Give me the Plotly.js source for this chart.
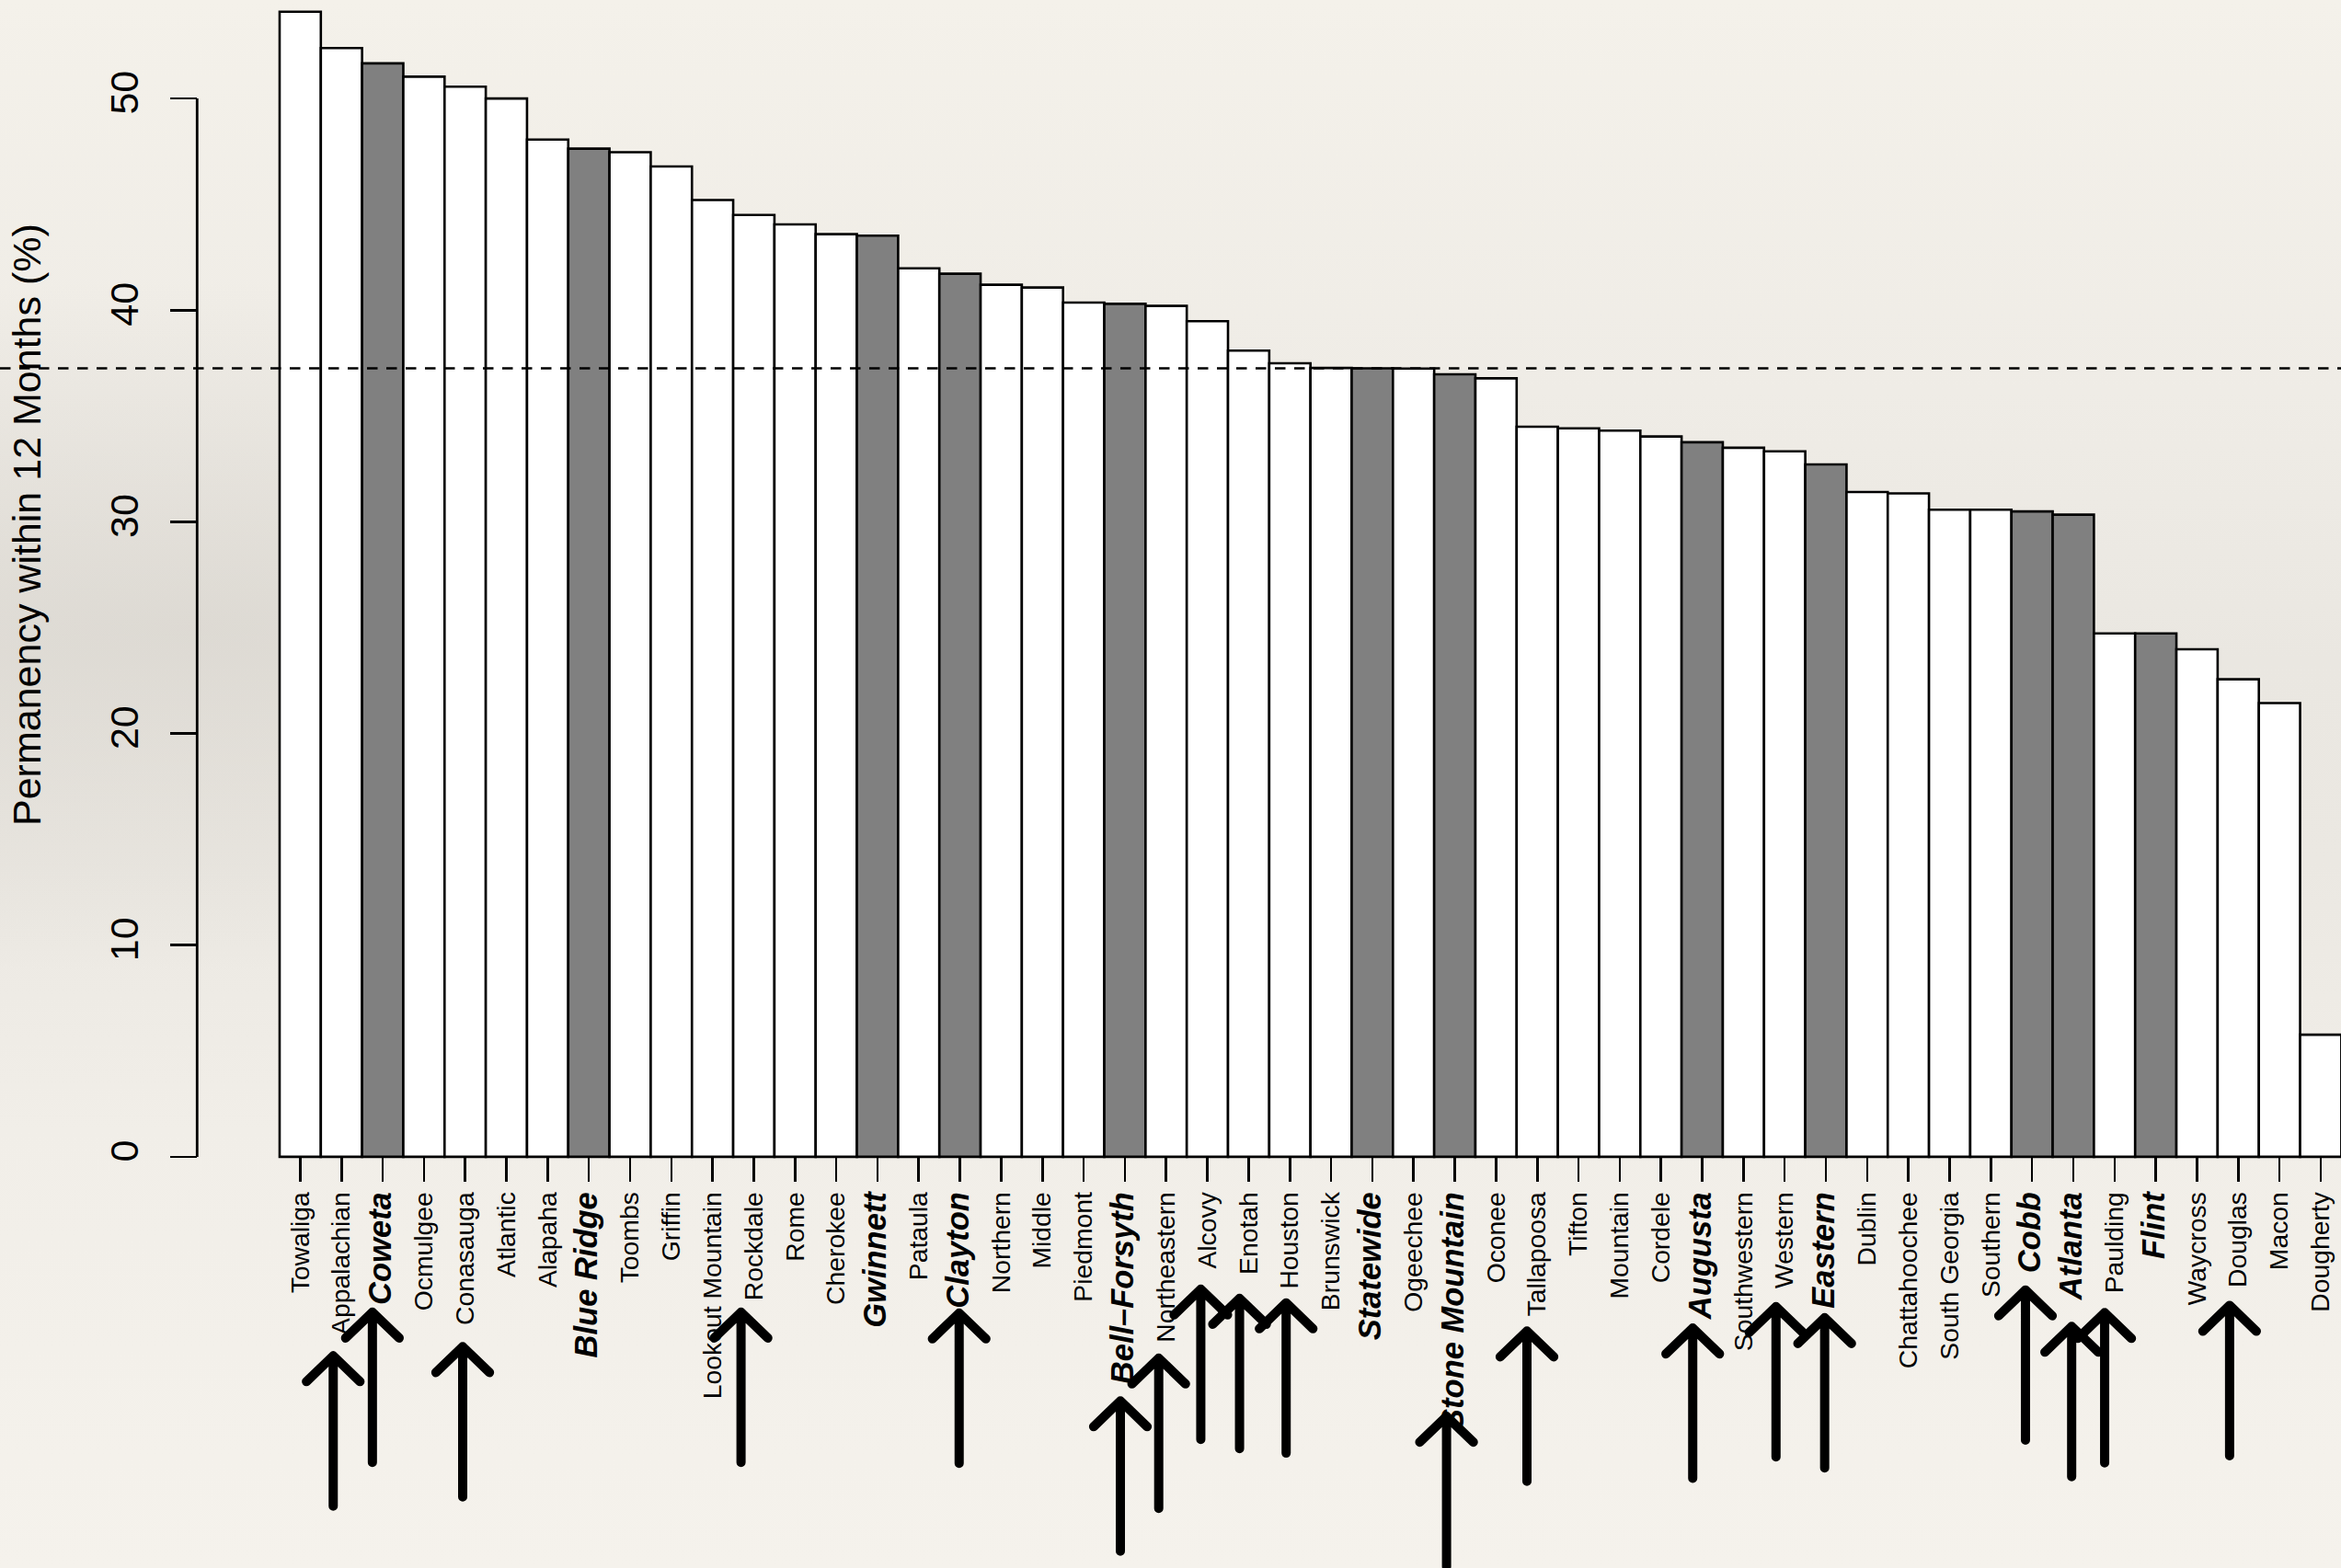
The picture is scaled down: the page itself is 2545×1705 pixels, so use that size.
<!DOCTYPE html>
<html>
<head>
<meta charset="utf-8">
<script src="https://cdn.plot.ly/plotly-3.0.1.min.js"></script>
<style>
html, body { margin: 0; padding: 0; width: 2545px; height: 1705px; overflow: hidden; }
body {
  background:
    radial-gradient(ellipse 55% 22% at 8% 40%, rgba(205,201,194,0.45), rgba(205,201,194,0) 100%),
    linear-gradient(to bottom, #f4f1ea 0%, #efece6 25%, #eae7e1 42%, #ebe8e2 55%, #f1eee8 72%, #f5f2ec 100%);
}
#chart { width: 2545px; height: 1705px; }
.shapelayer path[style*="stroke-width: 10px"] { stroke-linecap: round; stroke-linejoin: round; }
</style>
</head>
<body>
<div id="chart"></div>
<script>
// ---------------- data ----------------
const regions = [
  "Towaliga", "Appalachian", "Coweta", "Ocmulgee", "Conasauga", "Atlantic", "Alapaha",
  "Blue Ridge", "Toombs", "Griffin", "Lookout Mountain", "Rockdale", "Rome", "Cherokee",
  "Gwinnett", "Pataula", "Clayton", "Northern", "Middle", "Piedmont", "Bell\u2013Forsyth",
  "Northeastern", "Alcovy", "Enotah", "Houston", "Brunswick", "Statewide", "Ogeechee",
  "Stone Mountain", "Oconee", "Tallapoosa", "Tifton", "Mountain", "Cordele", "Augusta",
  "Southwestern", "Western", "Eastern", "Dublin", "Chattahoochee", "South Georgia",
  "Southern", "Cobb", "Atlanta", "Paulding", "Flint", "Waycross", "Douglas", "Macon",
  "Dougherty"
];
const permanency = [
  54.10, 52.38, 51.66, 51.03, 50.56, 50.00, 48.06,
  47.63, 47.46, 46.79, 45.20, 44.50, 44.05, 43.59,
  43.52, 41.98, 41.72, 41.20, 41.07, 40.36, 40.30,
  40.20, 39.48, 38.09, 37.49, 37.27, 37.25, 37.24,
  36.97, 36.78, 34.49, 34.42, 34.31, 34.03, 33.76,
  33.50, 33.33, 32.71, 31.41, 31.34, 30.57,
  30.57, 30.49, 30.34, 24.73, 24.73, 23.98, 22.56, 21.44,
  5.77
];
const highlighted = [
  "Coweta", "Blue Ridge", "Gwinnett", "Clayton", "Bell\u2013Forsyth", "Statewide",
  "Stone Mountain", "Augusta", "Eastern", "Cobb", "Atlanta", "Flint"
];
const referenceRegion = "Statewide";
const yTicks = [0, 10, 20, 30, 40, 50];
const yTitle = "Permanency within 12 Months (%)";

// hand-placed arrows under the labels (x in bar-index units, tip in y units)
const arrowTargets = [
  "Appalachian", "Coweta", "Conasauga", "Rockdale", "Clayton", "Bell\u2013Forsyth",
  "Northeastern", "Alcovy", "Enotah", "Houston", "Stone Mountain", "Tallapoosa",
  "Augusta", "Western", "Eastern", "Cobb", "Atlanta", "Paulding", "Douglas"
];
const arrowX = [
  0.80, 1.75, 3.94, 10.69, 15.98, 19.89,
  20.82, 21.84, 22.78, 23.91, 27.80, 29.75,
  33.77, 35.79, 36.97, 41.84, 42.96, 43.76, 46.79
];
const arrowTipY = [
  -9.40, -7.34, -8.97, -7.34, -7.38, -11.53,
  -9.51, -6.25, -6.69, -6.90, -12.26, -8.23,
  -8.09, -7.08, -7.60, -6.29, -8.01, -7.36, -7.02
];

// ---------------- styles ----------------
const FONT = "Liberation Sans, Arial, Helvetica, sans-serif";
const BLACK = "#000000";
const GRAY = "#808080";
const WHITE = "#ffffff";
const ARROW_LEN = 7.1;       // y units
const HEAD_DX = 0.65;        // x units
const HEAD_DY = 1.22;        // y units
const Y_AXIS_POS = 0.0842;   // paper fraction
const X_RANGE = [-7.281, 49.492];
const Y_RANGE = [-19.426, 54.653];
const X_AXIS_POS = (0 - Y_RANGE[0]) / (Y_RANGE[1] - Y_RANGE[0]);

const idx = regions.map((_, i) => i);
const hl = new Set(highlighted);
const tickText = regions.map(r => hl.has(r)
  ? '<span style="font-size:34.5px"><b><i>' + r + '</i></b></span>'
  : r);

const barTrace = {
  type: "bar",
  x: idx,
  y: permanency,
  width: 1,
  marker: {
    color: regions.map(r => hl.has(r) ? GRAY : WHITE),
    line: { color: BLACK, width: 2.6 }
  },
  hoverinfo: "skip"
};

const refValue = permanency[regions.indexOf(referenceRegion)];

const shapes = [];
// y axis line spanning the tick range (R style)
shapes.push({
  type: "line", xref: "paper", yref: "y",
  x0: Y_AXIS_POS, x1: Y_AXIS_POS, y0: yTicks[0], y1: yTicks[yTicks.length - 1],
  line: { color: BLACK, width: 2.8 }
});
// reference (statewide) dashed line
shapes.push({
  type: "line", xref: "paper", yref: "y",
  x0: 0, x1: 1, y0: refValue, y1: refValue,
  line: { color: BLACK, width: 2.5, dash: "11.5px,9.5px" }
});
// arrows
arrowTargets.forEach((name, k) => {
  const x = arrowX[k];
  const tip = arrowTipY[k];
  const tail = tip - ARROW_LEN;
  shapes.push({
    type: "path", xref: "x", yref: "y",
    path: `M ${x},${tail} L ${x},${tip} M ${x - HEAD_DX},${tip - HEAD_DY} L ${x},${tip} L ${x + HEAD_DX},${tip - HEAD_DY}`,
    line: { color: BLACK, width: 10 }
  });
});

const layout = {
  width: 2545, height: 1705,
  margin: { l: 0, r: 0, t: 0, b: 0, pad: 0 },
  paper_bgcolor: "rgba(0,0,0,0)",
  plot_bgcolor: "rgba(0,0,0,0)",
  showlegend: false,
  bargap: 0,
  font: { family: FONT, color: BLACK },
  xaxis: {
    range: X_RANGE,
    anchor: "free", position: X_AXIS_POS,
    showgrid: false, zeroline: false, showline: false,
    ticks: "outside", ticklen: 26, tickwidth: 2.6, tickcolor: BLACK,
    tickmode: "array", tickvals: idx, ticktext: tickText,
    tickangle: -90,
    tickfont: { family: FONT, size: 28.3, color: BLACK },
    automargin: false, fixedrange: true
  },
  yaxis: {
    range: Y_RANGE,
    anchor: "free", position: Y_AXIS_POS,
    showgrid: false, zeroline: false, showline: false,
    ticks: "outside", ticklen: 29, tickwidth: 2.6, tickcolor: BLACK,
    tickmode: "array", tickvals: yTicks, ticktext: yTicks.map(String),
    tickangle: -90, ticklabelstandoff: 18,
    tickfont: { family: FONT, size: 43, color: BLACK },
    automargin: false, fixedrange: true
  },
  shapes: shapes,
  annotations: [{
    text: yTitle, xref: "paper", yref: "paper",
    x: 29 / 2545, y: 1 - 571 / 1705,
    xanchor: "center", yanchor: "middle",
    textangle: -90, showarrow: false,
    font: { family: FONT, size: 43, color: BLACK }
  }]
};

Plotly.newPlot("chart", [barTrace], layout, { staticPlot: true, displayModeBar: false });
</script>
</body>
</html>
